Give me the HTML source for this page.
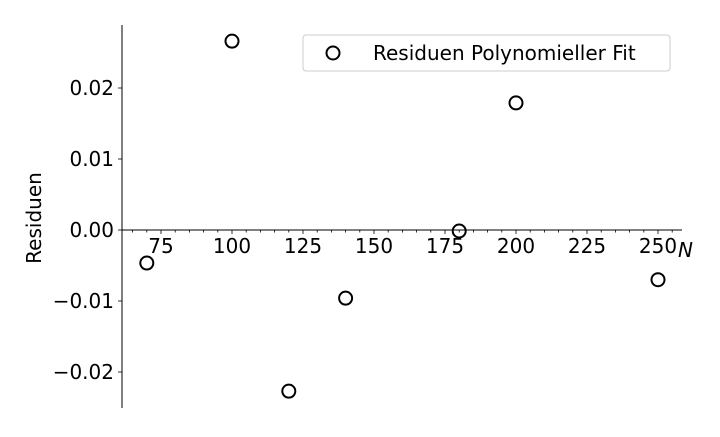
<!DOCTYPE html>
<html><head><meta charset="utf-8"><style>
body{margin:0;background:#fff}
svg text{font-family:"DejaVu Sans","Liberation Sans",sans-serif;fill:#000}
</style></head><body>
<svg width="720" height="432">
<g id="axes"></g><g id="pts"></g>
<text x="41" y="218" font-size="20" text-anchor="middle" transform="rotate(-90 41 218)">Residuen</text>
<text x="678" y="257" font-size="20" font-style="italic">N</text>
<g>
<rect x="303" y="35" width="367" height="36" rx="3" fill="#fff" stroke="#ccc"/>
<circle cx="333" cy="53" r="6.5" fill="none" stroke="#000" stroke-width="2"/>
<text x="373" y="60" font-size="20">Residuen Polynomieller Fit</text>
</g>
</svg>
<script>
const xValues=[70,100,120,140,180,200,250];
const residuals=[-0.00465,0.0266,-0.0227,-0.0096,-0.00014,0.0179,-0.0070];
const xTicks=[75,100,125,150,175,200,225,250];
const yTicks=[-0.02,-0.01,0,0.01,0.02];
const yTickLabels=["\u22120.02","\u22120.01","0.00","0.01","0.02"];
const NS="http://www.w3.org/2000/svg";
const px=x=>232+(x-100)*2.84;
const py=y=>230-y*7100;
function mk(t,a,p){const e=document.createElementNS(NS,t);for(const k in a)e.setAttribute(k,a[k]);p.appendChild(e);return e;}
const ax=document.getElementById('axes');
const yl=mk('line',{x1:122,y1:25,x2:122,y2:408,stroke:'#000','stroke-width':1},ax);


const xl=mk('line',{x1:122,y1:230,x2:682,y2:230,stroke:'#000','stroke-width':1},ax);


for(let v=65;v<=255;v+=5){const x=px(v);const maj=xTicks.includes(v);mk('line',{x1:x,y1:230,x2:x,y2:230+(maj?4:2.5),stroke:'#000','stroke-width':0.8},ax);}
xTicks.forEach(v=>{const t=mk('text',{x:px(v),y:253,'font-size':20,'text-anchor':'middle'},ax);t.textContent=v;

});
yTicks.forEach((v,i)=>{const y=py(v);mk('line',{x1:118,y1:y,x2:122,y2:y,stroke:'#000','stroke-width':0.8},ax);
const t=mk('text',{x:114,y:y+7,'font-size':20,'text-anchor':'end'},ax);t.textContent=yTickLabels[i];

});
const g=document.getElementById('pts');
xValues.forEach((x,i)=>{const c=mk('circle',{cx:px(x),cy:py(residuals[i]),r:6.5,fill:'none',stroke:'#000','stroke-width':2},g);

});
</script>
</body></html>
